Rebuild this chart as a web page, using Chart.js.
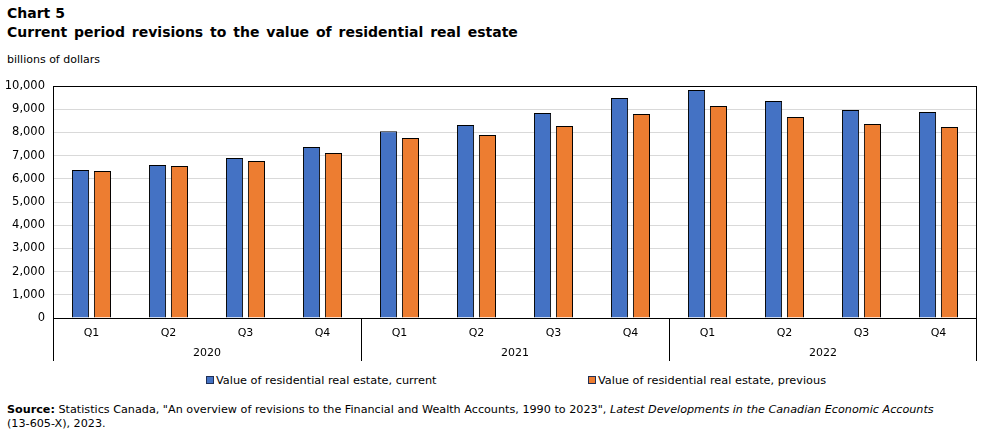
<!DOCTYPE html>
<html>
<head>
<meta charset="utf-8">
<script src="https://cdn.jsdelivr.net/npm/chart.js@4.4.0/dist/chart.umd.min.js"></script>
<style>
body{margin:0;width:983px;height:435px;position:relative;font-family:"DejaVu Sans",Verdana,sans-serif;background:#fff;color:#000;overflow:hidden}
.t{position:absolute;left:7px;font-weight:bold;font-size:14px;line-height:17px;white-space:nowrap}
#unit{position:absolute;left:7px;top:53px;font-size:11px;line-height:14px;white-space:nowrap}
#wrap{position:absolute;left:0;top:75px;width:983px;height:290px}
.lg{position:absolute;top:374px;font-size:11.3px;line-height:14px;white-space:nowrap}
.sw{display:inline-block;width:6px;height:6px;border:1px solid #1f2f55;margin-right:2px;vertical-align:0px}
#src{position:absolute;left:7px;top:403px;font-size:11.2px;line-height:14px;white-space:nowrap}
</style>
</head>
<body>
<div class="t" style="top:5px">Chart 5</div>
<div class="t" style="top:24px;word-spacing:2px">Current period revisions to the value of residential real estate</div>
<div id="unit">billions of dollars</div>
<div id="wrap"><canvas id="c" width="983" height="290"></canvas></div>
<div class="lg" style="left:206px"><span class="sw" style="background:#4472C4"></span>Value of residential real estate, current</div>
<div class="lg" style="left:588px"><span class="sw" style="background:#ED7D31"></span>Value of residential real estate, previous</div>
<div id="src"><b>Source:</b> Statistics Canada, "An overview of revisions to the Financial and Wealth Accounts, 1990 to 2023", <i>Latest Developments in the Canadian Economic Accounts</i><br>(13-605-X), 2023.</div>
<script>
const categories = ['Q1','Q2','Q3','Q4','Q1','Q2','Q3','Q4','Q1','Q2','Q3','Q4'];
const years = ['2020','2021','2022'];
const seriesNames = ['Value of residential real estate, current','Value of residential real estate, previous'];
const currentValues = [6380,6595,6895,7370,8045,8320,8835,9485,9830,9355,8965,8880];
const previousValues = [6335,6550,6765,7110,7760,7890,8275,8795,9140,8665,8360,8235];
const yMin = 0, yMax = 10000, yStep = 1000;

const framePlugin = {
  id: 'frame',
  afterDatasetsDraw(chart) {
    const ctx = chart.ctx, a = chart.chartArea;
    const xs = chart.scales.x, x2 = chart.scales.x2;
    ctx.save();
    ctx.strokeStyle = '#000';
    ctx.lineWidth = 1;
    ctx.strokeRect(Math.round(a.left) + 0.5, Math.round(a.top) + 0.5, Math.round(a.right - a.left) - 1, Math.round(a.bottom - a.top));
    const n = categories.length, per = n / years.length;
    ctx.beginPath();
    for (let i = 0; i <= years.length; i++) {
      const idx = i * per;
      let px;
      if (idx === 0) px = xs.left;
      else if (idx === n) px = xs.right;
      else px = (xs.getPixelForValue(idx - 1) + xs.getPixelForValue(idx)) / 2;
      px = Math.round(px) + 0.5;
      if (i === years.length) px -= 1;
      ctx.moveTo(px, a.bottom);
      ctx.lineTo(px, x2.bottom);
    }
    ctx.stroke();
    ctx.restore();
  }
};

new Chart(document.getElementById('c'), {
  type: 'bar',
  data: {
    labels: categories,
    datasets: [
      {label: seriesNames[0], data: currentValues, backgroundColor: '#4472C4', borderColor: '#000', borderWidth: 1, categoryPercentage: 0.57, barPercentage: 0.78},
      {label: seriesNames[1], data: previousValues, backgroundColor: '#ED7D31', borderColor: '#000', borderWidth: 1, categoryPercentage: 0.57, barPercentage: 0.78}
    ]
  },
  options: {
    responsive: false,
    animation: false,
    devicePixelRatio: 1,
    layout: {padding: {top: 11, right: 6, bottom: 4, left: 0}},
    plugins: {legend: {display: false}, tooltip: {enabled: false}},
    scales: {
      x: {
        type: 'category',
        grid: {display: false, drawTicks: false},
        border: {display: false},
        ticks: {color: '#000', font: {family: 'DejaVu Sans', size: 11}, padding: 9, maxRotation: 0, autoSkip: false},
        afterFit: s => { s.height = 22; s.paddingLeft = 0; s.paddingRight = 0; }
      },
      x2: {
        type: 'category',
        axis: 'x',
        position: 'bottom',
        labels: years,
        offset: true,
        grid: {display: false, drawTicks: false},
        border: {display: false},
        ticks: {color: '#000', font: {family: 'DejaVu Sans', size: 11}, padding: 7, maxRotation: 0},
        afterFit: s => { s.height = 21; s.paddingLeft = 0; s.paddingRight = 0; }
      },
      y: {
        min: yMin, max: yMax,
        grid: {color: '#d9d9d9', drawTicks: false},
        border: {display: false},
        ticks: {stepSize: yStep, color: '#000', font: {family: 'DejaVu Sans', size: 11.5}, padding: 8,
          callback: v => Number(v).toLocaleString('en-US')},
        afterFit: s => { s.width = 53; s.paddingTop = 0; s.paddingBottom = 0; }
      }
    }
  },
  plugins: [framePlugin]
});
</script>
</body>
</html>
